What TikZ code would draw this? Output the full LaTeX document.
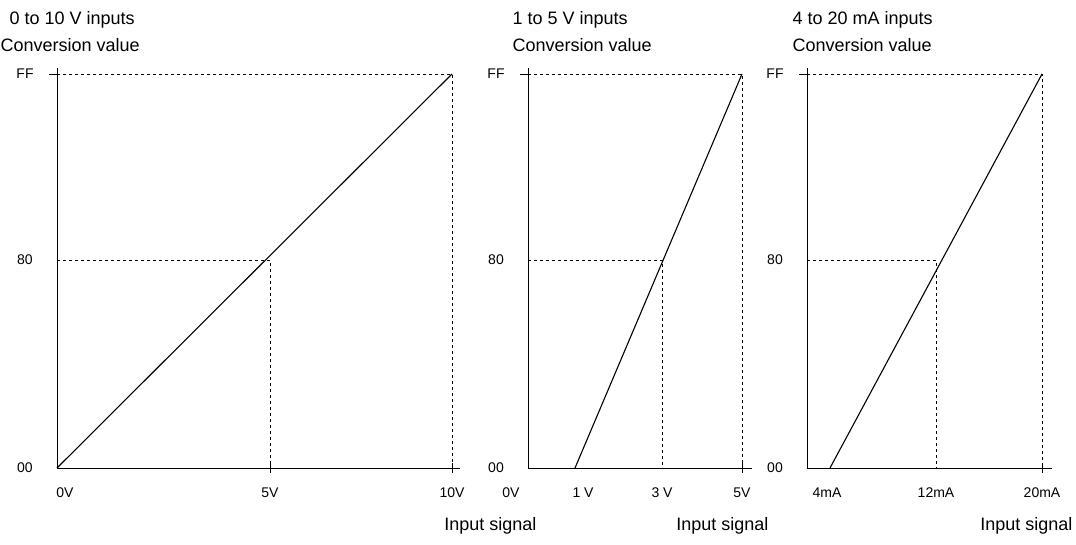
\documentclass[tikz,border=0pt]{standalone}
\usepackage{fontspec}
\setmainfont{Liberation Sans}
\usetikzlibrary{positioning}

\begin{document}
\begin{tikzpicture}[x=1pt,y=-1pt,
    title/.style={anchor=west, font=\fontsize{18}{18}\selectfont},
    tick/.style={font=\fontsize{14}{14}\selectfont},
    axis/.style={line width=1pt},
    guide/.style={dashed, line width=0.7pt},
    curve/.style={line width=1.1pt}]
    \useasboundingbox (0,0) rectangle (1076,545);

    % 0 to 10 V panel
    \node[title] (t1) at (6,20) {0 to 10 V inputs};
    \node[title] (c1) at (-3,45) {Conversion value};
    \coordinate (o1) at (57,468);
    \coordinate (ytop1) at (57,68);
    \coordinate (xend1) at (460,468);
    \coordinate (ff1) at (57,74);
    \coordinate (m1) at (57,260);
    \coordinate (p1) at (452,74);
    \coordinate (h1) at (270,260);
    \draw[axis] (ytop1) -- (o1) -- (xend1);
    \draw[guide] (ff1) -- (p1) -- (452,468);
    \draw[guide] (m1) -- (h1) -- (270,468);
    \draw[curve] (o1) -- (p1);
    \draw (49,74) -- (ff1) (270,463) -- (270,473) (452,463) -- (452,473);
    \node[tick] at (25,74) {FF};
    \node[tick] at (25,260) {80};
    \node[tick] at (25,468) {00};
    \node[tick] at (65,493) {0V};
    \node[tick] at (270,493) {5V};
    \node[tick] at (452,493) {10V};
    \node[title, anchor=east] at (540,526) {Input signal};

    % 1 to 5 V panel
    \node[title] (t2) at (509,20) {1 to 5 V inputs};
    \node[title] (c2) at (509,45) {Conversion value};
    \coordinate (o2) at (528,468);
    \coordinate (ytop2) at (528,68);
    \coordinate (xend2) at (752,468);
    \coordinate (s2) at (575,468);
    \coordinate (ff2) at (528,74);
    \coordinate (m2) at (528,260);
    \coordinate (p2) at (742,74);
    \coordinate (h2) at (662,260);
    \draw[axis] (ytop2) -- (o2) -- (xend2);
    \draw[guide] (ff2) -- (p2) -- (742,468);
    \draw[guide] (m2) -- (h2) -- (662,468);
    \draw[curve] (s2) -- (p2);
    \draw (520,74) -- (ff2) (742,463) -- (742,473);
    \node[tick] at (496,74) {FF};
    \node[tick] at (496,260) {80};
    \node[tick] at (496,468) {00};
    \node[tick] at (511,493) {0V};
    \node[tick] at (583,493) {1 V};
    \node[tick] at (662,493) {3 V};
    \node[tick] at (742,493) {5V};
    \node[title, anchor=east] at (772,526) {Input signal};

    % 4 to 20 mA panel
    \node[title] (t3) at (789,20) {4 to 20 mA inputs};
    \node[title] (c3) at (789,45) {Conversion value};
    \coordinate (o3) at (807,468);
    \coordinate (ytop3) at (807,68);
    \coordinate (xend3) at (1052,468);
    \coordinate (s3) at (830,468);
    \coordinate (ff3) at (807,74);
    \coordinate (m3) at (807,260);
    \coordinate (p3) at (1042,74);
    \coordinate (h3) at (936,260);
    \draw[axis] (ytop3) -- (o3) -- (xend3);
    \draw[guide] (ff3) -- (p3) -- (1042,468);
    \draw[guide] (m3) -- (h3) -- (936,468);
    \draw[curve] (s3) -- (p3);
    \draw (799,74) -- (ff3) (1042,463) -- (1042,473);
    \node[tick] at (775,74) {FF};
    \node[tick] at (775,260) {80};
    \node[tick] at (775,468) {00};
    \node[tick] at (827,493) {4mA};
    \node[tick] at (936,493) {12mA};
    \node[tick] at (1042,493) {20mA};
    \node[title, anchor=east] at (1076,526) {Input signal};
\end{tikzpicture}
\end{document}
